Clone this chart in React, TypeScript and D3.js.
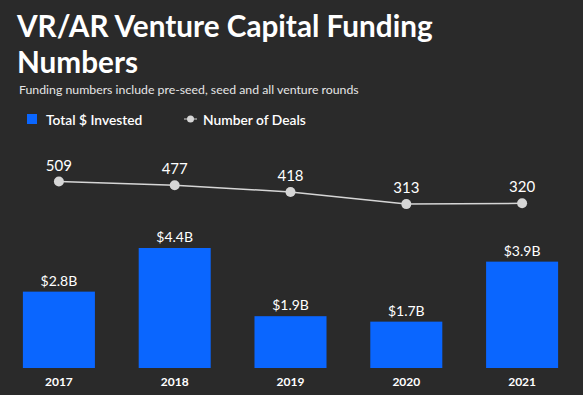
import React from "react";
import * as d3 from "d3";

const years = ["2017", "2018", "2019", "2020", "2021"];
const invested = [2.8, 4.4, 1.9, 1.7, 3.9];
const investedLabels = ["$2.8B", "$4.4B", "$1.9B", "$1.7B", "$3.9B"];
const deals = [509, 477, 418, 313, 320];

const W = 583;
const H = 395;
const BG = "#2a2a2a";
const BLUE = "#0a66ff";
const GREY = "#d6d6d6";
const FONT = "Lato, 'Open Sans', sans-serif";

export default function App() {
  const x = d3
    .scaleBand<string>()
    .domain(years)
    .range([1, 580])
    .paddingInner(0.378)
    .paddingOuter(0.189);
  const yBar = d3.scaleLinear().domain([0, 4.4]).range([368, 248]);
  const yLine = d3.scaleLinear().domain([0, 509]).range([240.2, 181.5]);
  const cx = (d: string) => (x(d) as number) + x.bandwidth() / 2;

  const line = d3
    .line<number>()
    .x((_, i) => cx(years[i]))
    .y((d) => yLine(d));

  return (
    <svg
      width={W}
      height={H}
      style={{ position: "absolute", left: 0, top: 0, display: "block" }}
      fontFamily={FONT}
    >
      <rect width={W} height={H} fill={BG} />
      <text x={17} y={37} fill="#fff" fontSize={29.7} fontWeight={700}>
        VR/AR Venture Capital Funding
      </text>
      <text x={17} y={73} fill="#fff" fontSize={29.7} fontWeight={700}>
        Numbers
      </text>
      <text x={19} y={94} fill="#e6e6e6" fontSize={12.3}>
        Funding numbers include pre-seed, seed and all venture rounds
      </text>

      {/* legend */}
      <rect x={27} y={114} width={10} height={10} fill={BLUE} />
      <text x={46} y={125} fill="#fff" fontSize={13.8} fontWeight={600}>
        Total $ Invested
      </text>
      <line x1={184} x2={197} y1={119} y2={119} stroke={GREY} strokeWidth={1} />
      <circle cx={190.5} cy={119} r={3.5} fill={GREY} />
      <text x={203} y={125} fill="#fff" fontSize={13.8} fontWeight={600}>
        Number of Deals
      </text>

      {/* bars */}
      {years.map((yr, i) => (
        <g key={yr}>
          <rect
            x={x(yr)}
            y={yBar(invested[i])}
            width={x.bandwidth()}
            height={yBar(0) - yBar(invested[i])}
            fill={BLUE}
          />
          <text
            x={cx(yr)}
            y={yBar(invested[i]) - 6}
            textAnchor="middle"
            fill="#fff"
            fontSize={14}
          >
            {investedLabels[i]}
          </text>
          <text
            x={cx(yr)}
            y={386}
            textAnchor="middle"
            fill="#fff"
            fontSize={12}
            fontWeight={700}
          >
            {yr}
          </text>
        </g>
      ))}

      {/* line */}
      <path d={line(deals) || ""} fill="none" stroke={GREY} strokeWidth={1.5} />
      {deals.map((v, i) => (
        <g key={i}>
          <circle cx={cx(years[i])} cy={yLine(v)} r={5} fill={GREY} />
          <text
            x={cx(years[i])}
            y={yLine(v) - 11}
            textAnchor="middle"
            fill="#fff"
            fontSize={15}
          >
            {v}
          </text>
        </g>
      ))}
    </svg>
  );
}
